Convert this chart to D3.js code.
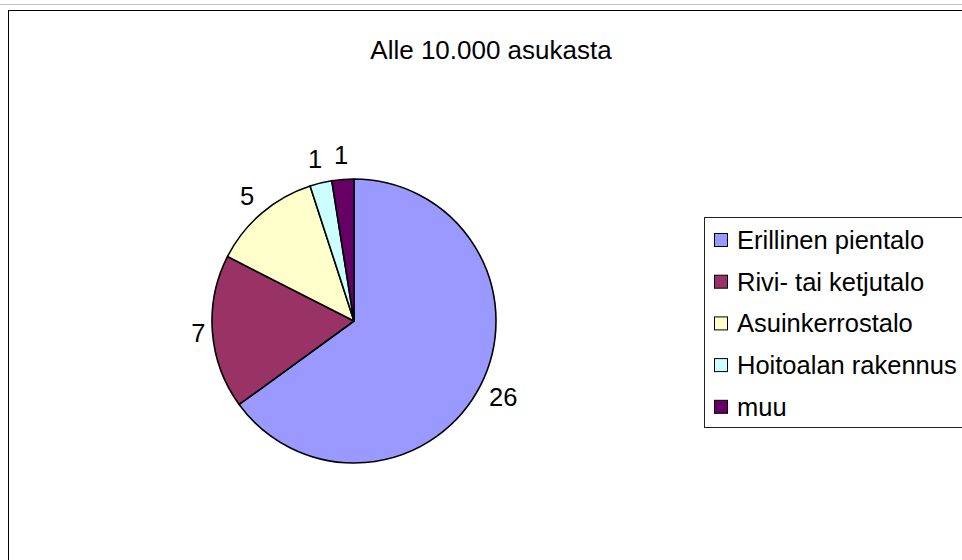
<!DOCTYPE html>
<html lang="fi">
<head>
<meta charset="UTF-8">
<title>Alle 10.000 asukasta</title>
<script src="https://d3js.org/d3.v7.min.js"></script>
<style>
  body { margin: 0; background: #fff; }
  svg text { font-family: "Liberation Sans", Arial, sans-serif; fill: #000; }
</style>
</head>
<body>
<svg id="chart" width="962" height="560"></svg>
<script>
// chart data
const title = "Alle 10.000 asukasta";
const categories = ["Erillinen pientalo", "Rivi- tai ketjutalo", "Asuinkerrostalo", "Hoitoalan rakennus", "muu"];
const values = [26, 7, 5, 1, 1];
const colors = ["#9999ff", "#993366", "#ffffcc", "#ccffff", "#660066"];

const svg = d3.select("#chart");
const fontSize = 25.5;

// frame
svg.append("line")
  .attr("x1", 0).attr("x2", 962).attr("y1", 4.5).attr("y2", 4.5)
  .attr("stroke", "#c0c0c0");
svg.append("rect")
  .attr("x", 8.5).attr("y", 10.5).attr("width", 970).attr("height", 570)
  .attr("fill", "none").attr("stroke", "#000");

// title
svg.append("text")
  .attr("x", 491).attr("y", 59)
  .attr("text-anchor", "middle")
  .style("font-size", "26px")
  .text(title);

// pie
const cx = 354, cy = 321, r = 142;
const pie = d3.pie().sort(null).value(d => d);
const arcs = pie(values);
const arc = d3.arc().innerRadius(0).outerRadius(r);

const g = svg.append("g").attr("transform", `translate(${cx},${cy})`);
g.selectAll("path.slice")
  .data(arcs)
  .enter()
  .append("path")
  .attr("class", "slice")
  .attr("d", arc)
  .attr("fill", (d, i) => colors[i])
  .attr("stroke", "#000")
  .attr("stroke-width", 1.6)
  .attr("stroke-linejoin", "round");

// labels outside the slices
const labels = g.selectAll("text.lbl")
  .data(arcs)
  .enter()
  .append("text")
  .attr("class", "lbl")
  .style("font-size", fontSize + "px")
  .attr("text-anchor", "middle")
  .attr("dominant-baseline", "central")
  .text(d => d.data);

labels.each(function(d) {
  const w = this.getComputedTextLength();
  const a = (d.startAngle + d.endAngle) / 2;
  const sx = Math.sin(a), sy = -Math.cos(a);
  const dist = r + 10 + Math.abs(sx) * (w / 2 - 4) + Math.abs(sy) * 14;
  d3.select(this)
    .attr("x", sx * dist)
    .attr("y", sy * dist);
});

// legend
const legX = 704, legY = 217, rowH = 41.7;
svg.append("rect")
  .attr("x", legX + 0.5).attr("y", legY + 0.5)
  .attr("width", 300).attr("height", 210)
  .attr("fill", "#fff").attr("stroke", "#222");

const items = svg.selectAll("g.item")
  .data(categories)
  .enter()
  .append("g")
  .attr("class", "item")
  .attr("transform", (d, i) => `translate(${legX + 10},${legY + 23 + i * rowH})`);

items.append("rect")
  .attr("x", 0.5).attr("y", -6.5)
  .attr("width", 13).attr("height", 13)
  .attr("fill", (d, i) => colors[i])
  .attr("stroke", "#000");

items.append("text")
  .attr("x", 23)
  .attr("y", 0)
  .attr("dominant-baseline", "central")
  .style("font-size", fontSize + "px")
  .text(d => d);
</script>
</body>
</html>
